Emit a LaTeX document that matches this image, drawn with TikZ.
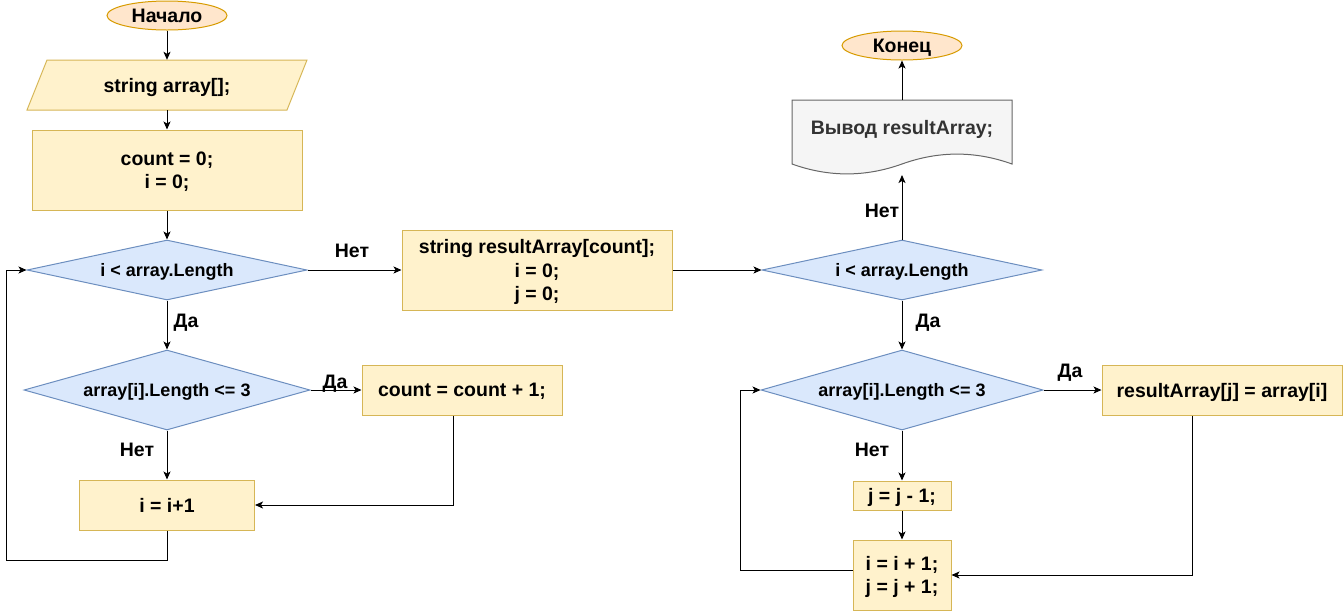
\documentclass[tikz,border=0pt]{standalone}
\usepackage{fontspec}
\setmainfont{Liberation Sans}
\usetikzlibrary{shapes.geometric,arrows.meta,calc}
\definecolor{yfill}{HTML}{FFF2CC}
\definecolor{ydraw}{HTML}{D6B656}
\definecolor{bfill}{HTML}{DAE8FC}
\definecolor{bdraw}{HTML}{6C8EBF}
\definecolor{ofill}{HTML}{FFE6CC}
\definecolor{odraw}{HTML}{D79B00}
\definecolor{gfill}{HTML}{F5F5F5}
\definecolor{gdraw}{HTML}{666666}
\definecolor{gtext}{HTML}{333333}
\begin{document}
\begin{tikzpicture}[x=1pt,y=-1pt,
 every node/.style={font=\fontsize{19.5}{23.5}\selectfont\bfseries, inner sep=0pt, align=center, text depth=0pt},
 proc/.style={rectangle, draw=ydraw, fill=yfill, line width=1pt},
 cond/.style={diamond, draw=bdraw, fill=bfill, line width=1pt, font=\fontsize{18}{22}\selectfont\bfseries, shape aspect=4.67},
 term/.style={ellipse, draw=odraw, fill=ofill, line width=1pt, minimum width=120pt, minimum height=29pt},
 conn/.style={-{Stealth[length=8pt,width=7pt,inset=2pt]}, line width=1pt},
 shapeline/.style={line width=1pt}
]
\useasboundingbox (0,0) rectangle (1343,611);

% left column
\node[term] (start) at (167,15.5) {Начало};
\path[draw=ydraw, fill=yfill, shapeline] (47,60) -- (307,60) -- (287,110) -- (27,110) -- cycle;
\node[minimum width=260pt, minimum height=50pt] (inp) at (167,85) {string array[];};
\node[proc, minimum width=270pt, minimum height=80pt] (init) at (167,170) {count = 0;\\ i = 0;};
\node[cond, minimum width=280pt, minimum height=60pt] (d1) at (167,270) {i < array.Length};
\node[cond, minimum width=286pt, minimum height=80pt] (d2) at (167,390) {array[i].Length <= 3};
\node[proc, minimum width=200pt, minimum height=50pt] (cnt) at (462,390) {count = count + 1;};
\node[proc, minimum width=175pt, minimum height=50pt] (inc) at (167,505) {i = i+1};

% middle
\node[proc, minimum width=270pt, minimum height=80pt] (res) at (537,270) {string resultArray[count];\\ i = 0;\\ j = 0;};

% right column
\node[term] (end) at (902,45.5) {Конец};
\path[draw=gdraw, fill=gfill, shapeline] (792,100) -- (1012,100) -- (1012,164)
  .. controls (975.33,150.8) and (938.67,150.8) .. (902,164)
  .. controls (865.33,177.2) and (828.67,177.2) .. (792,164) -- cycle;
\node[text=gtext] (doc) at (902,127) {Вывод resultArray;};
\coordinate (docT) at (902,100);
\coordinate (docB) at (902,175);
\node[cond, minimum width=280pt, minimum height=60pt] (d3) at (902,270) {i < array.Length};
\node[cond, minimum width=282pt, minimum height=80pt] (d4) at (902,390) {array[i].Length <= 3};
\node[proc, minimum width=240pt, minimum height=50pt] (ra) at (1222,390) {resultArray[j] = array[i]};
\node[proc, minimum width=98pt, minimum height=29pt] (jm) at (902,495.5) {j = j - 1;};
\node[proc, minimum width=98pt, minimum height=70pt] (ij) at (902,575) {i = i + 1;\\ j = j + 1;};

% connectors
\draw[conn] (start) -- (inp);
\draw[conn] (inp) -- (init);
\draw[conn] (init) -- (d1);
\draw[conn] (d1) -- (res);
\draw[conn] (d1) -- (d2);
\draw[conn] (d2) -- (cnt);
\draw[conn] (d2) -- (inc);
\draw[conn] ([xshift=-9pt]cnt.south) |- (inc.east);
\draw[conn] (inc.south) -- ++(0,30) -| ([xshift=-20pt]d1.west) -- (d1.west);
\draw[conn] (res) -- (d3);
\draw[conn] (d3.north) -- (docB);
\draw[conn] (docT) -- (end);
\draw[conn] (d3) -- (d4);
\draw[conn] (d4) -- (ra);
\draw[conn] (d4) -- (jm);
\draw[conn] (jm) -- (ij);
\draw[conn] ([xshift=-30pt]ra.south) |- (ij.east);
\draw[conn] ([yshift=5pt]ij.west) -- ++(-112,0) |- (d4.west);

% labels
\node (l1) at (352,251) {Нет};
\node (l2) at (186,321) {Да};
\node (l3) at (335,382) {Да};
\node (l4) at (137,450) {Нет};
\node (l5) at (882,211) {Нет};
\node (l6) at (928,321) {Да};
\node (l7) at (1070,371) {Да};
\node (l8) at (872,450) {Нет};
\end{tikzpicture}
\end{document}
